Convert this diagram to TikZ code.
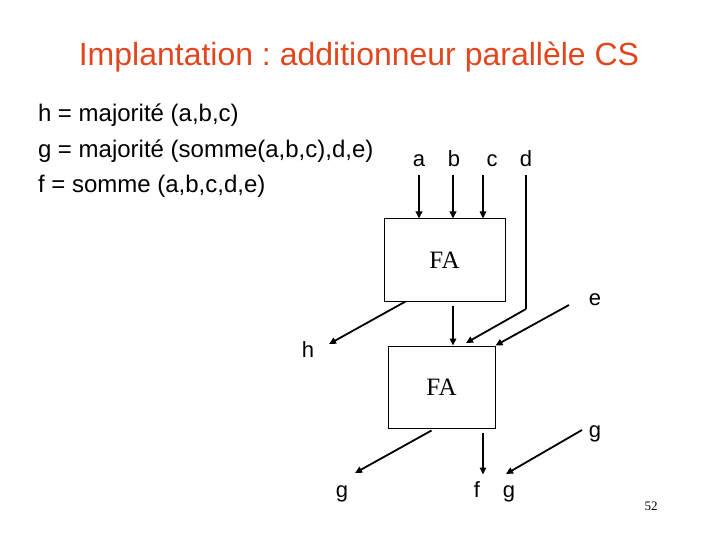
\documentclass[tikz,border=0pt]{standalone}
\usepackage{fontspec}
\setmainfont{Liberation Sans}
\newfontfamily\serifFA{Liberation Serif}
\usetikzlibrary{arrows.meta,calc}
\definecolor{titlered}{RGB}{226,70,30}
\tikzset{
  txt/.style={inner sep=0pt,outer sep=0pt,anchor=base west},
  lbl/.style={inner sep=0pt,outer sep=0pt,anchor=base,font=\fontsize{22}{26}\selectfont},
  fabox/.style={draw,line width=1pt,inner sep=0pt,font=\fontsize{25}{30}\serifFA},
  thk/.style={line width=1.8pt},
  thn/.style={line width=1.1pt},
  arr/.style={-{Triangle[length=7pt,width=6.5pt]}},
}
\frenchspacing
\begin{document}
\begin{tikzpicture}[x=1pt,y=-1pt]
\useasboundingbox (0,0) rectangle (720,540);
% title
\node[inner sep=0pt,anchor=base,text=titlered,font=\fontsize{32}{38}\selectfont] (title) at (359,66) {Implantation : additionneur parallèle CS};
% equations
\node[txt,font=\fontsize{24}{28}\selectfont] (eq1) at (38,121.5) {h = majorité (a,b,c)};
\node[txt,font=\fontsize{24}{28}\selectfont] (eq2) at (38,157.5) {g = majorité (somme(a,b,c),d,e)};
\node[txt,font=\fontsize{24}{28}\selectfont] (eq3) at (38,192.5) {f = somme (a,b,c,d,e)};
% boxes
\node[fabox,minimum width=121pt,minimum height=82pt] (fa1) at (444.5,260) {FA};
\node[fabox,minimum width=107pt,minimum height=82pt] (fa2) at (441.5,387) {FA};
% input labels
\node[lbl] (la) at (419,167) {a};
\node[lbl] (lb) at (454,167) {b};
\node[lbl] (lc) at (492,167) {c};
\node[lbl] (ld) at (526,167) {d};
\node[lbl] (le) at (595,305) {e};
\node[lbl] (lh) at (308,357) {h};
\node[lbl] (lg1) at (595,437) {g};
\node[lbl] (lg2) at (342,497) {g};
\node[lbl] (lf) at (477,497) {f};
\node[lbl] (lg3) at (509,497) {g};
\node[inner sep=0pt,anchor=base,font=\fontsize{13}{15}\serifFA] (pg) at (651,510) {52};
% connector end points
\coordinate (sa) at (419,175);
\coordinate (sb) at (453,175);
\coordinate (sc) at (483,175);
\coordinate (sd) at (526,175);
\coordinate (dk) at (526,309);
\coordinate (dend) at (466,343);
\coordinate (hend) at (329,344);
\coordinate (est) at (569,305);
\coordinate (g1st) at (582,430);
\coordinate (g1end) at (506,474);
\coordinate (g2end) at (355,473);
% inputs to FA1
\draw[thk,arr] (sa) -- (sa |- fa1.north);
\draw[thk,arr] (sb) -- (sb |- fa1.north);
\draw[thn,arr] (sc) -- (sc |- fa1.north);
\draw[thn] (sd) -- (dk);
\draw[thk,arr] (dk) -- (dend);
% FA1 outputs
\draw[thk,arr] ([xshift=22pt]fa1.south west) -- (hend);
\draw[thk,arr] ([xshift=8.5pt,yshift=-4pt]fa1.south) -- ([xshift=11.5pt]fa2.north);
% e
\draw[thk,arr] (est) -- (fa2.north east);
% FA2 outputs
\draw[thk,arr] ([xshift=44pt,yshift=-2pt]fa2.south west) -- (g2end);
\draw[thn,arr] ([xshift=41.5pt,yshift=-4pt]fa2.south) -- ([xshift=41.5pt,yshift=-46pt]fa2.south);
\draw[thk,arr] (g1st) -- (g1end);
\end{tikzpicture}
\end{document}
